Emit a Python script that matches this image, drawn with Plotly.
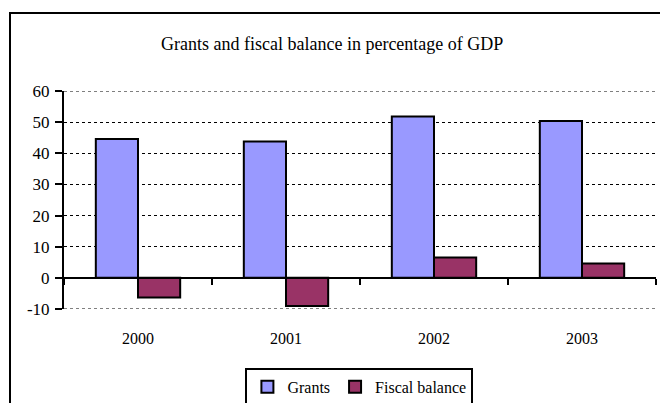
import plotly.graph_objects as go

years = ["2000", "2001", "2002", "2003"]
grants = [44.6, 43.8, 51.8, 50.4]
fiscal_balance = [-6.3, -9.0, 6.5, 4.6]
y_ticks = [-10, 0, 10, 20, 30, 40, 50, 60]
y_tick_text = ["-10", "0", "10", "20", "30", "40", "50", "60"]

FONT = "Liberation Serif, Times New Roman, serif"

fig = go.Figure()
fig.add_trace(go.Bar(x=years, y=grants, name="Grants",
                     marker=dict(color="#9999FF", line=dict(color="black", width=2))))
fig.add_trace(go.Bar(x=years, y=fiscal_balance, name="Fiscal balance",
                     marker=dict(color="#993366", line=dict(color="black", width=2))))
# helper trace for the category axis drawn at y = 0
fig.add_trace(go.Scatter(x=years, y=[None] * len(years), xaxis="x2",
                         showlegend=False, hoverinfo="skip"))

# gridlines at the range ends (plotly omits them at the plot edges)
edge_lines = [dict(type="line", xref="paper", yref="y", x0=0, x1=1, y0=v, y1=v,
                   line=dict(color="black", width=1, dash="dot"), layer="below")
              for v in (y_ticks[0], y_ticks[-1])]

fig.update_layout(
    width=660, height=403,
    margin=dict(l=64, r=4, t=91, b=94, autoexpand=False),
    paper_bgcolor="white", plot_bgcolor="white",
    font=dict(family=FONT, color="black", size=16),
    barmode="group", bargap=0.43, bargroupgap=0,
    title=dict(text="Grants and fiscal balance in percentage of GDP",
               x=0.453, xref="paper", xanchor="center",
               y=1 - 44 / 403, yref="container", yanchor="middle",
               font=dict(family=FONT, size=18, color="black")),
    xaxis=dict(type="category", showline=False, showgrid=False, ticks="",
               ticklabelstandoff=18, tickfont=dict(size=16), fixedrange=True),
    xaxis2=dict(type="category", overlaying="x", matches="x", anchor="free",
                position=10 / 70, showline=True, linecolor="black", linewidth=2,
                ticks="outside", tickson="boundaries", ticklen=6, tickwidth=2,
                tickcolor="black", showticklabels=False, showgrid=False),
    yaxis=dict(range=[y_ticks[0], y_ticks[-1]], tickvals=y_ticks, ticktext=y_tick_text,
               showline=True, linecolor="black",
               linewidth=2, ticks="outside", ticklen=7, tickwidth=2, tickcolor="black",
               showgrid=True, gridcolor="black", griddash="dot", gridwidth=1,
               zeroline=True, zerolinecolor="black", zerolinewidth=2,
               ticklabelstandoff=2, tickfont=dict(size=17), fixedrange=True),
    legend=dict(orientation="h", x=0.499, xanchor="center", y=-0.27, yanchor="top",
                bordercolor="black", borderwidth=2, font=dict(family=FONT, size=16),
                itemwidth=30, tracegroupgap=0, traceorder="normal"),
    showlegend=True,
    shapes=[dict(type="rect", xref="paper", yref="paper",
                 x0=(10 - 64) / 592, x1=1.2, y0=-0.6, y1=(309 - 13) / 218,
                 line=dict(color="black", width=2), layer="below")] + edge_lines,
)

fig.write_html("out.html")
